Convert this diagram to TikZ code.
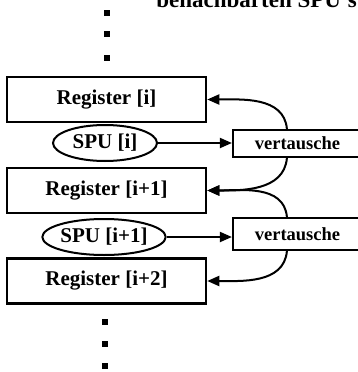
\documentclass[tikz,border=0pt]{standalone}
\usepackage{fontspec}
\setmainfont{Liberation Serif}
\usetikzlibrary{shapes.geometric,arrows.meta,calc}

\begin{document}
\begin{tikzpicture}[x=1pt,y=-1pt,
  regbox/.style={draw,line width=2.5pt,minimum width=199pt,minimum height=45pt,inner sep=0pt,
    font=\fontsize{21}{24}\selectfont\bfseries},
  spu/.style={draw,ellipse,line width=2pt,minimum width=104pt,minimum height=36pt,inner sep=0pt,
    font=\fontsize{21}{24}\selectfont\bfseries},
  swapbox/.style={draw,line width=2.2pt,minimum width=129pt,inner sep=0pt,
    font=\fontsize{18.5}{22}\selectfont\bfseries},
  link/.style={line width=2pt,-{Triangle[length=12pt,width=10pt]}},
  dot/.style={fill,minimum size=5.5pt,inner sep=0pt}
]
\useasboundingbox (0,0) rectangle (358,372);
\clip (0,0) rectangle (358,372);

% heading, cut at the top edge
\node[anchor=base east,inner sep=0pt,font=\fontsize{23}{26}\selectfont\bfseries] (hdr) at (357,8) {benachbarten SPU's};

% continuation dots above and below
\node[dot] (d1) at (107,13) {};
\node[dot] (d2) at (107,34) {};
\node[dot] (d3) at (107,58) {};
\node[dot] (d4) at (105,322) {};
\node[dot] (d5) at (105,344) {};
\node[dot] (d6) at (105,366) {};

% registers
\node[regbox] (r1) at (106.5,99.5) {Register [i]};
\node[regbox] (r2) at (106.5,190.5) {Register [i+1]};
\node[regbox] (r3) at (106.5,281) {Register [i+2]};

% processing units between the registers
\node[spu] (s1) at (105,143) {SPU [i]};
\node[spu] (s2) at (104,237) {SPU [i+1]};

% swap units
\node[swapbox,minimum height=27pt] (v1) at (297.5,143.5) {vertausche};
\node[swapbox,minimum height=32pt] (v2) at (297.5,234) {vertausche};

% units feed the swap boxes
\draw[link] (s1.east) -- (s1.east -| v1.west);
\draw[link] (s2.east) -- (s2.east -| v2.west);

% swap results go back to the neighbouring registers
\coordinate (v1t) at ($(v1.north west)+(55,0)$);
\coordinate (v1b) at ($(v1.south west)+(55,0)$);
\coordinate (v2t) at ($(v2.north west)+(55,0)$);
\coordinate (v2b) at ($(v2.south west)+(55,0)$);
\draw[link] (v1t) to[out=95,in=0] (r1.east);
\draw[link] (v1b) to[out=-95,in=0] (r2.east);
\draw[link] (v2t) to[out=95,in=0] (r2.east);
\draw[link] (v2b) to[out=-95,in=0] (r3.east);
\end{tikzpicture}
\end{document}
